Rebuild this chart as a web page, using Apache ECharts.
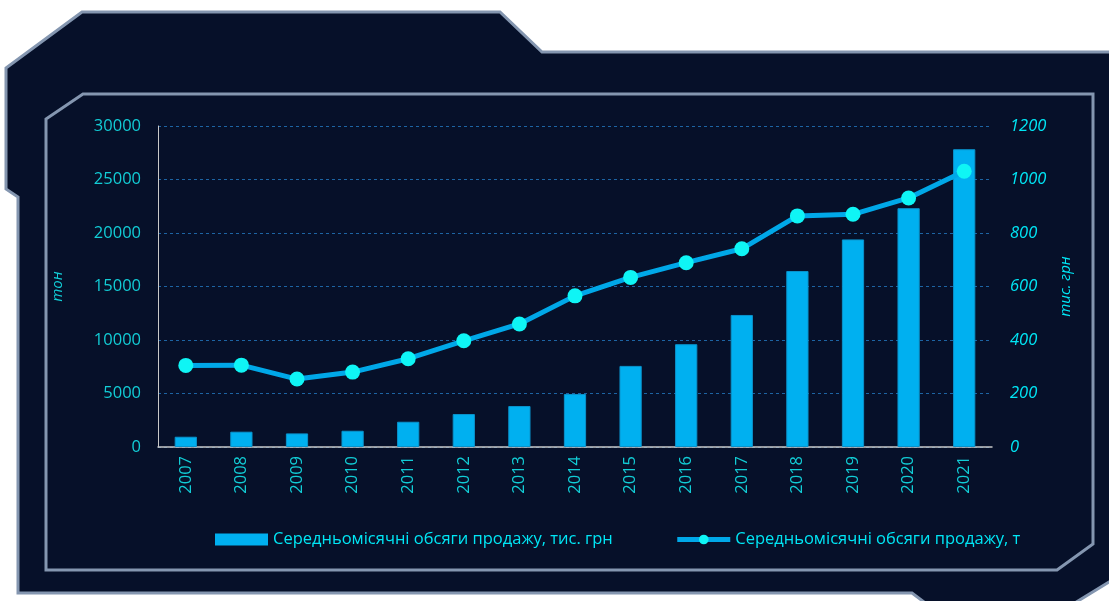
<!DOCTYPE html>
<html>
<head>
<meta charset="utf-8">
<script src="https://cdn.jsdelivr.net/npm/echarts@6/dist/echarts.min.js"></script>
<style>
  html, body { margin: 0; padding: 0; background: #ffffff; }
  #chart { width: 1109px; height: 601px; }
</style>
</head>
<body>
<div id="chart"></div>
<script>
// Average monthly sales, 2007–2021
const years = ['2007', '2008', '2009', '2010', '2011', '2012', '2013', '2014',
               '2015', '2016', '2017', '2018', '2019', '2020', '2021'];
// bars: average monthly sales, thousand UAH (left scale)
const salesValue = [960, 1430, 1270, 1520, 2360, 3080, 3830, 4950,
                    7580, 9610, 12340, 16450, 19400, 22320, 27830];
// line: average monthly sales, tonnes (right scale)
const salesVolume = [305, 306, 254, 280, 330, 397, 460, 565,
                     634, 689, 741, 864, 870, 931, 1031];

const leftScale = { min: 0, max: 30000, interval: 5000 };
const rightScale = { min: 0, max: 1200, interval: 200 };

const seriesNames = ['Середньомісячні обсяги продажу, тис. грн',
                     'Середньомісячні обсяги продажу, т'];
const axisNames = ['тон', 'тис. грн'];

const FONT = 'Open Sans';
const TEAL = '#12cdd6';
const CYAN = '#00e6f5';
const FRAME_STROKE = '#8496b0';
const FRAME_FILL = '#061029';
const BAR_COLOR = '#00b0f0';
const LINE_COLOR = '#00a8e8';
const MARKER_COLOR = '#0ff5f5';

const plain = v => String(v);

const chart = echarts.init(document.getElementById('chart'), null, { renderer: 'canvas' });

chart.setOption({
  backgroundColor: '#ffffff',
  animation: false,
  textStyle: { fontFamily: FONT },
  graphic: [
    {
      type: 'polygon', z: -20, silent: true,
      shape: { points: [[82, 12], [500, 12], [542, 52], [1140, 52], [1140, 563], [1047, 620],
                        [948, 620], [912, 593], [18, 593], [18, 197], [6, 189], [6, 68]] },
      style: { fill: FRAME_FILL, stroke: FRAME_STROKE, lineWidth: 3 }
    },
    {
      type: 'polygon', z: -10, silent: true,
      shape: { points: [[83, 94], [1093, 94], [1093, 544], [1057, 570], [46, 570], [46, 119]] },
      style: { fill: FRAME_FILL, stroke: FRAME_STROKE, lineWidth: 3 }
    }
  ],
  grid: { left: 158, right: 117, top: 126, bottom: 154, containLabel: false },
  legend: {
    left: 210,
    top: 526,
    itemWidth: 53,
    itemHeight: 12,
    itemGap: 62,
    textStyle: { color: CYAN, fontSize: 16.5, fontFamily: FONT },
    data: [
      { name: seriesNames[0], icon: 'rect', itemStyle: { color: BAR_COLOR, borderWidth: 0 } },
      { name: seriesNames[1], lineStyle: { width: 5, color: LINE_COLOR }, itemStyle: { color: MARKER_COLOR } }
    ]
  },
  xAxis: {
    type: 'category',
    data: years,
    boundaryGap: true,
    axisLine: { show: true, lineStyle: { color: '#c8c8c8', width: 1.5 } },
    axisTick: { show: false },
    axisLabel: { color: TEAL, fontSize: 16.5, rotate: 90, margin: 9, fontFamily: FONT }
  },
  yAxis: [
    {
      type: 'value',
      position: 'left',
      min: leftScale.min, max: leftScale.max, interval: leftScale.interval,
      name: axisNames[0],
      nameLocation: 'middle',
      nameRotate: 90,
      nameGap: 93,
      nameTextStyle: { color: TEAL, fontSize: 15, fontStyle: 'italic', fontFamily: FONT },
      axisLine: { show: true, lineStyle: { color: '#c8c8c8', width: 1 } },
      axisTick: { show: false },
      axisLabel: { color: TEAL, fontSize: 16.5, margin: 17, fontFamily: FONT, formatter: plain },
      splitLine: { show: true, lineStyle: { color: '#1d64a3', width: 1, type: [3, 3] } }
    },
    {
      type: 'value',
      position: 'right',
      min: rightScale.min, max: rightScale.max, interval: rightScale.interval,
      name: axisNames[1],
      nameLocation: 'middle',
      nameRotate: 90,
      nameGap: 66,
      nameTextStyle: { color: CYAN, fontSize: 15, fontStyle: 'italic', fontFamily: FONT },
      axisLine: { show: false },
      axisTick: { show: false },
      axisLabel: { color: CYAN, fontSize: 16.5, fontStyle: 'italic', margin: 18, fontFamily: FONT, formatter: plain },
      splitLine: { show: false }
    }
  ],
  series: [
    {
      name: seriesNames[0],
      type: 'bar',
      yAxisIndex: 0,
      data: salesValue,
      barWidth: '40%',
      itemStyle: { color: BAR_COLOR, borderColor: '#0a93cc', borderWidth: 1 }
    },
    {
      name: seriesNames[1],
      type: 'line',
      yAxisIndex: 1,
      data: salesVolume,
      symbol: 'circle',
      symbolSize: 15,
      lineStyle: { color: LINE_COLOR, width: 5 },
      itemStyle: { color: MARKER_COLOR }
    }
  ]
});
</script>
</body>
</html>
